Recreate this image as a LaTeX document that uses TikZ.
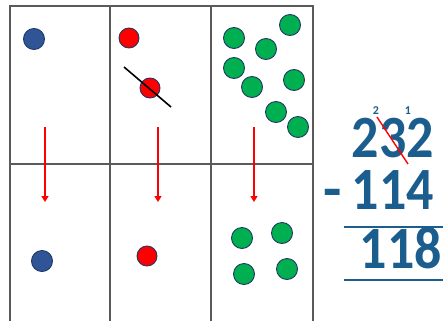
\documentclass[tikz,border=0pt]{standalone}
\usepackage{fontspec}
\setmainfont{Carlito}
\usepackage{graphicx}
\usepackage{tikz}
\usetikzlibrary{arrows.meta}
\definecolor{DotBlue}{HTML}{2F5597}
\definecolor{DotRed}{HTML}{FF0000}
\definecolor{DotGreen}{HTML}{00B050}
\definecolor{DotEdge}{HTML}{1F3864}
\definecolor{SumInk}{HTML}{1B5E8E}
\definecolor{GridInk}{HTML}{5A5A5A}
\newcommand{\narrowdigits}[1]{\scalebox{0.9}[1]{#1}}

\begin{document}
\begin{tikzpicture}[x=1pt, y=-1pt,
    grid/.style={draw=GridInk, line width=1.2pt},
    dot/.style={circle, draw=DotEdge, line width=0.9pt, inner sep=0pt, minimum size=21pt},
    bluedot/.style={dot, fill=DotBlue},
    reddot/.style={dot, fill=DotRed, minimum size=20pt},
    greendot/.style={dot, fill=DotGreen},
    take/.style={-{Triangle[length=6pt, width=7pt]}, draw=DotRed, line width=1.4pt},
    digits/.style={text=SumInk, font=\bfseries\fontsize{60}{60}\selectfont, inner sep=0pt,
      text height=38pt, text depth=0pt, anchor=base},
    carry/.style={text=SumInk, font=\bfseries\fontsize{12}{12}\selectfont, inner sep=0pt,
      text height=8pt, text depth=0pt, anchor=base},
    sumline/.style={draw=SumInk, line width=2pt}
  ]
    \useasboundingbox (0,0) rectangle (443,321);

    % grid
    \draw[grid] (10,321) -- (10,6) -- (313,6) -- (313,321);
    \draw[grid] (110,6) -- (110,321);
    \draw[grid] (211,6) -- (211,321);
    \draw[grid] (10,164) -- (313,164);

    % top row
    \node[bluedot] (blueA) at (34,39) {};
    \node[reddot] (redA) at (129,38) {};
    \node[reddot] (redB) at (150,88) {};
    \coordinate (crossA) at (124,67);
    \coordinate (crossB) at (171,107);
    \draw[line width=1.6pt] (crossA) -- (crossB);
    \node[greendot] (greenA) at (234,38) {};
    \node[greendot] (greenB) at (266,49) {};
    \node[greendot] (greenC) at (290,25) {};
    \node[greendot] (greenD) at (234,68) {};
    \node[greendot] (greenE) at (252,87) {};
    \node[greendot] (greenF) at (294,80) {};
    \node[greendot] (greenG) at (276,112) {};
    \node[greendot] (greenH) at (298,127) {};

    % arrows
    \coordinate (onesTop) at (45,127);
    \coordinate (onesBot) at (45,202);
    \coordinate (tensTop) at (158,127);
    \coordinate (tensBot) at (158,202);
    \coordinate (hundTop) at (254,127);
    \coordinate (hundBot) at (254,202);
    \draw[take] (onesTop) -- (onesBot);
    \draw[take] (tensTop) -- (tensBot);
    \draw[take] (hundTop) -- (hundBot);

    % bottom row
    \node[bluedot] (blueB) at (42,261) {};
    \node[reddot] (redC) at (147,256) {};
    \node[greendot] (greenI) at (242,238) {};
    \node[greendot] (greenJ) at (282,233) {};
    \node[greendot] (greenK) at (244,274) {};
    \node[greendot] (greenL) at (287,269) {};

    % the sum
    \node[digits] (top) at (393,157) {\narrowdigits{232}};
    \node[digits] (minus) at (333,209) {-};
    \node[digits] (sub) at (393,209) {\narrowdigits{114}};
    \node[digits] (result) at (401,268) {\narrowdigits{118}};
    \node[carry] (carryA) at (376,114) {2};
    \node[carry] (carryB) at (408,114) {1};
    \coordinate (slashA) at (377,117);
    \coordinate (slashB) at (408,164);
    \draw[draw=DotRed, line width=1.4pt] (slashA) -- (slashB);
    \coordinate (lineA) at (344,227);
    \coordinate (lineB) at (443,227);
    \coordinate (lineC) at (344,280);
    \coordinate (lineD) at (443,280);
    \draw[sumline] (lineA) -- (lineB);
    \draw[sumline] (lineC) -- (lineD);
\end{tikzpicture}
\end{document}
